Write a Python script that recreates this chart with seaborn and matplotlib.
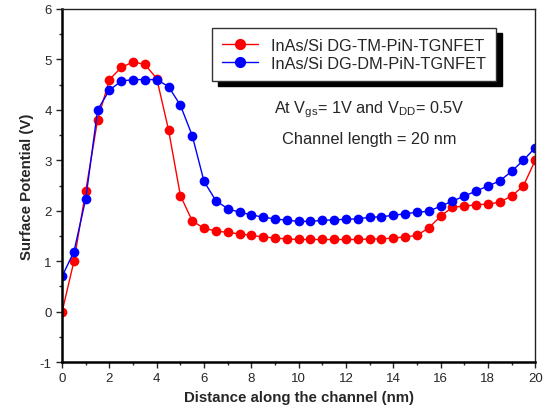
import numpy as np
import pandas as pd
import matplotlib.pyplot as plt
import seaborn as sns
from matplotlib.ticker import MultipleLocator

distance = [0, 0.5, 1, 1.5, 2, 2.5, 3, 3.5, 4, 4.5, 5, 5.5, 6, 6.5, 7, 7.5, 8, 8.5, 9, 9.5,
            10, 10.5, 11, 11.5, 12, 12.5, 13, 13.5, 14, 14.5, 15, 15.5, 16, 16.5, 17, 17.5,
            18, 18.5, 19, 19.5, 20]
tm_potential = [0.0, 1.0, 2.4, 3.8, 4.6, 4.84, 4.95, 4.9, 4.62, 3.6, 2.3, 1.8, 1.65, 1.6, 1.57,
                1.54, 1.51, 1.48, 1.46, 1.44, 1.43, 1.43, 1.43, 1.43, 1.43, 1.43, 1.44, 1.44,
                1.46, 1.48, 1.51, 1.66, 1.89, 2.07, 2.09, 2.12, 2.13, 2.17, 2.29, 2.49, 3.0]
dm_potential = [0.7, 1.19, 2.24, 4.0, 4.39, 4.57, 4.6, 4.6, 4.6, 4.46, 4.09, 3.49, 2.58, 2.2,
                2.04, 1.97, 1.92, 1.87, 1.84, 1.81, 1.79, 1.79, 1.81, 1.82, 1.83, 1.84, 1.87,
                1.88, 1.91, 1.94, 1.97, 1.99, 2.09, 2.19, 2.29, 2.39, 2.49, 2.59, 2.78, 3.0, 3.25]
labels = ["InAs/Si DG-TM-PiN-TGNFET", "InAs/Si DG-DM-PiN-TGNFET"]
colors = ["#ff0000", "#0000ff"]

df = pd.DataFrame({
    "x": distance * 2,
    "y": tm_potential + dm_potential,
    "device": [labels[0]] * len(distance) + [labels[1]] * len(distance),
})

sns.set_style("ticks")
plt.rcParams["font.family"] = ["Liberation Sans", "DejaVu Sans"]
plt.rcParams["axes.unicode_minus"] = False

fig, ax = plt.subplots(figsize=(5.45, 4.14), dpi=100)
fig.subplots_adjust(left=0.114, right=0.982, top=0.976, bottom=0.123)

sns.lineplot(data=df, x="x", y="y", hue="device", palette=colors, marker="o",
             markersize=7, markeredgewidth=0, linewidth=1, ax=ax)

ax.set_xlim(0, 20)
ax.set_ylim(-1, 6)
ax.xaxis.set_major_locator(MultipleLocator(2))
ax.xaxis.set_minor_locator(MultipleLocator(1))
ax.yaxis.set_major_locator(MultipleLocator(1))
ax.yaxis.set_minor_locator(MultipleLocator(0.5))
ax.tick_params(which="both", direction="out", top=False, right=False, labelsize=9.5, width=1)
ax.tick_params(which="major", length=4)
ax.tick_params(which="minor", length=2.5)

for side in ["left", "bottom"]:
    ax.spines[side].set_linewidth(1.8)
    ax.spines[side].set_color("black")
for side in ["top", "right"]:
    ax.spines[side].set_linewidth(1.0)
    ax.spines[side].set_color("#222222")

ax.set_xlabel("Distance along the channel (nm)", fontsize=10.8, fontweight="bold")
ax.set_ylabel("Surface Potential (V)", fontsize=10.8, fontweight="bold")

ax.legend(loc="upper left", bbox_to_anchor=(0.3, 0.97), fontsize=11.8, frameon=True,
          fancybox=False, edgecolor="#333333", framealpha=1, handlelength=2.2,
          borderpad=0.6, labelspacing=0.2, markerscale=1.15,
          shadow={"ox": 4, "oy": -4, "color": "black", "alpha": 1})

ax.text(0.65, 0.717, "At V$_{\\mathregular{gs}}$= 1V and V$_{\\mathregular{DD}}$= 0.5V",
        transform=ax.transAxes, ha="center", va="center", fontsize=11.7)
ax.text(0.65, 0.632, "Channel length = 20 nm", transform=ax.transAxes,
        ha="center", va="center", fontsize=11.8)

fig.savefig("out.png", dpi=100)
